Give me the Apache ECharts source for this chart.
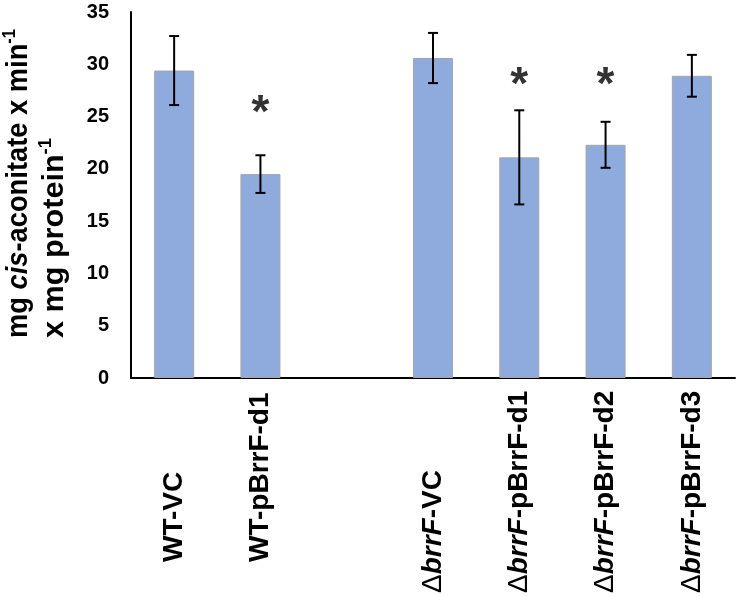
<!DOCTYPE html>
<html>
<head>
<meta charset="utf-8">
<script src="https://cdn.jsdelivr.net/npm/echarts@6/dist/echarts.min.js"></script>
<style>
  html, body { margin: 0; padding: 0; background: #fff; }
  #chart { width: 740px; height: 597px; }
</style>
</head>
<body>
<div id="chart"></div>
<script>
// ---- data ----
const categories = ['WT-VC', 'WT-pBrrF-d1', '', 'ΔbrrF-VC', 'ΔbrrF-pBrrF-d1', 'ΔbrrF-pBrrF-d2', 'ΔbrrF-pBrrF-d3'];
const means = [29.4, 19.5, null, 30.6, 21.1, 22.3, 28.9];
const errors = [3.3, 1.8, null, 2.4, 4.5, 2.2, 2.0];
const starValues = [null, 25.2, null, null, 27.9, 27.9, null];
const yMin = 0, yMax = 35, yInterval = 5;
const titleLine1 = '{t|mg }{it|cis}{t|-aconitate x min}{s|-1}';
const titleLine2 = '{t|x mg protein}{s|-1}';

const FONT = '"Liberation Sans", Arial, sans-serif';

const chart = echarts.init(document.getElementById('chart'), null, { renderer: 'canvas' });

const barData = means.map(v => (v == null ? '-' : v));
const errData = [];
means.forEach((m, i) => { if (m != null) errData.push([i, m, errors[i]]); });
const starData = [];
starValues.forEach((v, i) => { if (v != null) starData.push([i, v]); });

const baseLbl = { fontSize: 28, fontWeight: 'bold', fontFamily: FONT, color: '#000' };
const titleRich = {
  t: { fontSize: 30, fontWeight: 'bold', fontFamily: FONT, fill: '#000', lineHeight: 36 },
  it: { fontSize: 30, fontWeight: 'bold', fontStyle: 'italic', fontFamily: FONT, fill: '#000', lineHeight: 36 },
  s: { fontSize: 18, fontWeight: 'bold', fontFamily: FONT, fill: '#000', lineHeight: 36, verticalAlign: 'top', padding: [0, 0, 12, 0] }
};

const option = {
  backgroundColor: '#fff',
  animation: false,
  grid: { left: 131, right: 5, top: 12, bottom: 219, containLabel: false },
  xAxis: {
    type: 'category',
    data: categories,
    axisLine: { show: true, lineStyle: { color: '#000', width: 2 } },
    axisTick: { show: false },
    splitLine: { show: false },
    axisLabel: {
      interval: 0,
      rotate: 90,
      align: 'left',
      verticalAlign: 'middle',
      margin: 215,
      formatter: function (val) {
        if (!val) return '';
        if (val.charAt(0) === 'Δ') {
          return '{d|Δ}{i|brrF}{b|' + val.slice(5) + '}';
        }
        return '{w|' + val + '}';
      },
      rich: {
        b: Object.assign({}, baseLbl),
        i: Object.assign({}, baseLbl, { fontStyle: 'italic' }),
        d: Object.assign({}, baseLbl, { fontWeight: 'normal' }),
        w: Object.assign({}, baseLbl, { padding: [0, 0, 0, 31] })
      }
    }
  },
  yAxis: {
    type: 'value',
    min: yMin, max: yMax, interval: yInterval,
    axisLine: { show: true, lineStyle: { color: '#000', width: 2 } },
    axisTick: { show: false },
    splitLine: { show: false },
    axisLabel: { fontSize: 20, fontWeight: 'bold', fontFamily: FONT, color: '#000', margin: 22 }
  },
  graphic: [
    {
      type: 'text',
      x: 19, y: 338,
      rotation: Math.PI / 2,
      scaleX: 0.91,
      style: { text: titleLine1, align: 'left', verticalAlign: 'middle', fill: '#000', rich: titleRich }
    },
    {
      type: 'text',
      x: 55, y: 338,
      rotation: Math.PI / 2,
      scaleX: 1.02,
      style: { text: titleLine2, align: 'left', verticalAlign: 'middle', fill: '#000', rich: titleRich }
    }
  ],
  series: [
    {
      type: 'bar',
      data: barData,
      barWidth: 40,
      itemStyle: { color: '#8FAADC', borderColor: '#A5A5A5', borderWidth: 1 },
      silent: true
    },
    {
      type: 'custom',
      data: errData,
      z: 5,
      renderItem: function (params, api) {
        const x = api.value(0), m = api.value(1), e = api.value(2);
        const top = api.coord([x, m + e]);
        const bot = api.coord([x, m - e]);
        const cap = 5;
        const st = { stroke: '#000', lineWidth: 2 };
        return {
          type: 'group',
          children: [
            { type: 'line', shape: { x1: top[0], y1: top[1], x2: bot[0], y2: bot[1] }, style: st },
            { type: 'line', shape: { x1: top[0] - cap, y1: top[1], x2: top[0] + cap, y2: top[1] }, style: st },
            { type: 'line', shape: { x1: bot[0] - cap, y1: bot[1], x2: bot[0] + cap, y2: bot[1] }, style: st }
          ]
        };
      }
    },
    {
      type: 'scatter',
      data: starData,
      symbol: 'circle',
      symbolSize: 1,
      itemStyle: { color: 'rgba(0,0,0,0)' },
      z: 6,
      label: {
        show: true,
        position: 'inside',
        formatter: '*',
        fontSize: 46,
        fontWeight: 'bold',
        fontFamily: FONT,
        color: '#000'
      }
    }
  ]
};
chart.setOption(option);
</script>
</body>
</html>
